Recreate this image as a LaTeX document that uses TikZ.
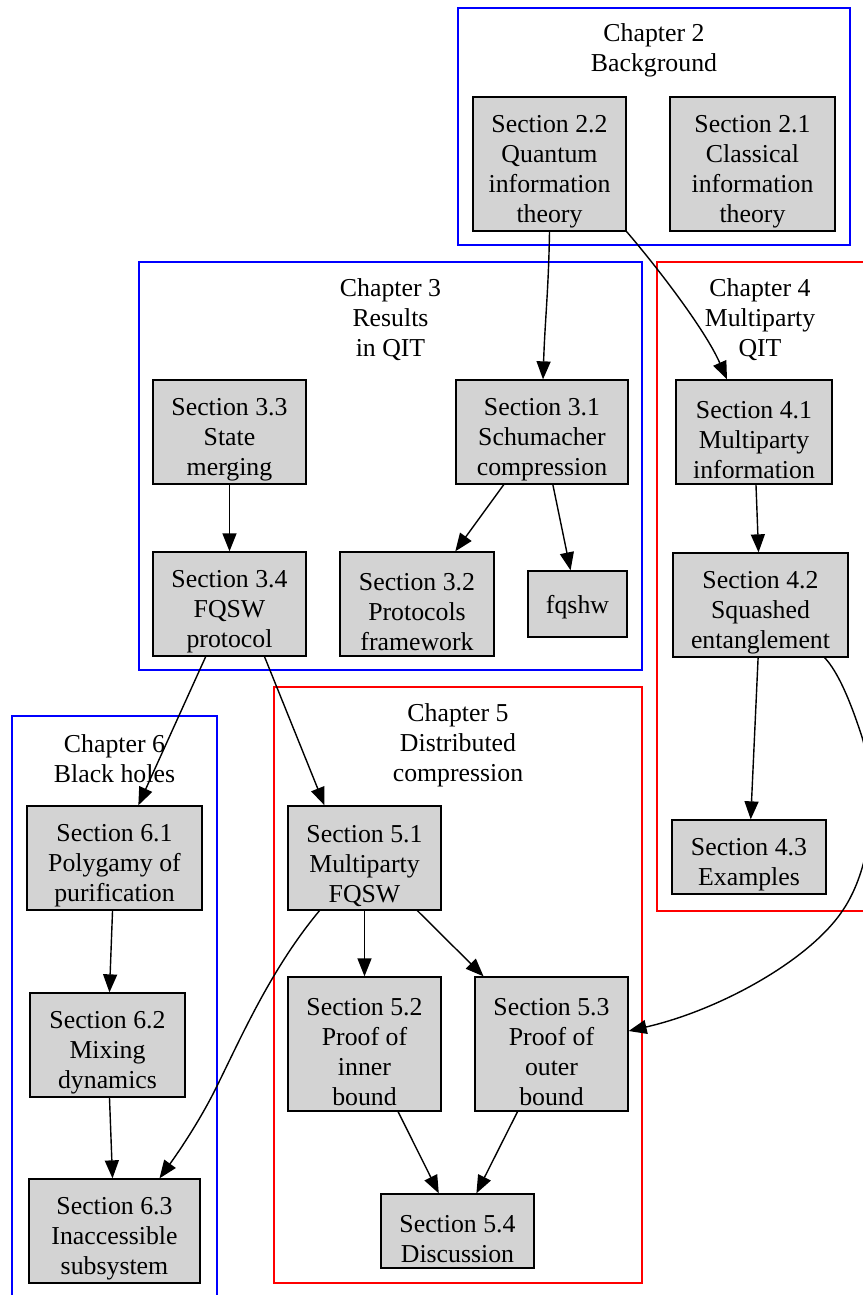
\documentclass[tikz,border=0pt]{standalone}
\usepackage{fontspec}
\setmainfont{Liberation Serif}
\usetikzlibrary{arrows.meta}
\definecolor{boxgray}{HTML}{D3D3D3}
\newcommand{\secstrut}{\rule{0pt}{33pt}}
\tikzset{
  sec/.style={draw=black, fill=boxgray, line width=1.3pt, inner sep=0pt, align=center,
    font=\fontsize{25.8}{30}\selectfont},
  clab/.style={inner sep=0pt, align=center, font=\fontsize{25.8}{30}\selectfont},
  clblue/.style={draw=blue, line width=1.4pt},
  clred/.style={draw=red, line width=1.4pt},
  edge/.style={draw=black, line width=1.4pt, -{Triangle[length=18pt,width=14pt]}}
}
\begin{document}
\begin{tikzpicture}[x=1pt,y=-1pt]
\useasboundingbox (0,0) rectangle (862,1295);
% clusters
\draw[clblue] (458,8) rectangle (850,245);
\draw[clblue] (139,262) rectangle (642,670);
\draw[clred] (657,262) rectangle (866,911);
\draw[clred] (274,687) rectangle (642,1283);
\draw[clblue] (12,716) rectangle (217,1300);
\node[clab] (c2) at (654,50) {Chapter 2\\Background};
\node[clab] (c3) at (390.5,320) {Chapter 3\\Results\\in QIT};
\node[clab] (c4) at (760,320) {Chapter 4\\Multiparty\\QIT};
\node[clab] (c5) at (458,745) {Chapter 5\\Distributed\\compression};
\node[clab] (c6) at (114.5,759) {Chapter 6\\Black holes};
% nodes
\node[sec, minimum width=153pt, minimum height=134pt] (n22) at (549.5,164) {\secstrut Section 2.2\\Quantum\\information\\theory};
\node[sec, minimum width=165pt, minimum height=134pt] (n21) at (752.5,164) {\secstrut Section 2.1\\Classical\\information\\theory};
\node[sec, minimum width=153pt, minimum height=104pt] (n33) at (229.5,432) {\secstrut Section 3.3\\State\\merging};
\node[sec, minimum width=172pt, minimum height=104pt] (n31) at (542,432) {\secstrut Section 3.1\\Schumacher\\compression};
\node[sec, minimum width=153pt, minimum height=104pt] (n34) at (229.5,604) {\secstrut Section 3.4\\FQSW\\protocol};
\node[sec, minimum width=154pt, minimum height=104pt] (n32) at (417,604) {\secstrut Section 3.2\\Protocols\\framework};
\node[sec, minimum width=99pt, minimum height=66pt] (fq) at (577.5,604) {\rule{0pt}{24pt}fqshw};
\node[sec, minimum width=156pt, minimum height=104pt] (n41) at (754,432) {\secstrut Section 4.1\\Multiparty\\information};
\node[sec, minimum width=175pt, minimum height=104pt] (n42) at (760.5,605) {\secstrut Section 4.2\\Squashed\\entanglement};
\node[sec, minimum width=154pt, minimum height=74pt] (n43) at (749,857) {\secstrut Section 4.3\\Examples};
\node[sec, minimum width=153pt, minimum height=104pt] (n51) at (364.5,858) {\secstrut Section 5.1\\Multiparty\\FQSW};
\node[sec, minimum width=153pt, minimum height=134pt] (n52) at (364.5,1044) {\secstrut Section 5.2\\Proof of\\inner\\bound};
\node[sec, minimum width=153pt, minimum height=134pt] (n53) at (551.5,1044) {\secstrut Section 5.3\\Proof of\\outer\\bound};
\node[sec, minimum width=153pt, minimum height=74pt] (n54) at (457.5,1231) {\secstrut Section 5.4\\Discussion};
\node[sec, minimum width=175pt, minimum height=104pt] (n61) at (114.5,858) {\secstrut Section 6.1\\Polygamy of\\purification};
\node[sec, minimum width=155pt, minimum height=104pt] (n62) at (107.5,1045) {\secstrut Section 6.2\\Mixing\\dynamics};
\node[sec, minimum width=171pt, minimum height=104pt] (n63) at (114.5,1231) {\secstrut Section 6.3\\Inaccessible\\subsystem};
% edges
\draw[edge] (n22.south) .. controls +(-1,60) and +(2,-60) .. ([xshift=1pt]n31.north);
\draw[edge] (n22.south east) .. controls +(30,35) and +(-22,-50) .. ([xshift=-27pt]n41.north);
\draw[edge] (n33) -- (n34);
\draw[edge] (n31) -- (n32);
\draw[edge] (n31) -- (fq);
\draw[edge] (n34) -- (n61);
\draw[edge] ([xshift=35pt]n34.south) -- ([xshift=-40pt]n51.north);
\draw[edge] (n41) -- (n42);
\draw[edge] (n42) -- (n43);
\draw[edge] ([xshift=-24pt]n42.south east) .. controls (838,672) and (850,700) .. (862,737)
  .. controls (880,800) and (870,870) .. (843,910)
  .. controls (810,960) and (720,1010) .. ([yshift=13pt]n53.east);
\draw[edge] (n51) -- (n52);
\draw[edge] (n51) -- (n53);
\draw[edge] ([xshift=-45pt]n51.south) .. controls (270,970) and (240,1040) .. (215,1090)
  .. controls (200,1120) and (180,1150) .. ([xshift=45pt]n63.north);
\draw[edge] (n61) -- (n62);
\draw[edge] (n62) -- (n63);
\draw[edge] (n52) -- (n54);
\draw[edge] (n53) -- (n54);
\end{tikzpicture}
\end{document}
